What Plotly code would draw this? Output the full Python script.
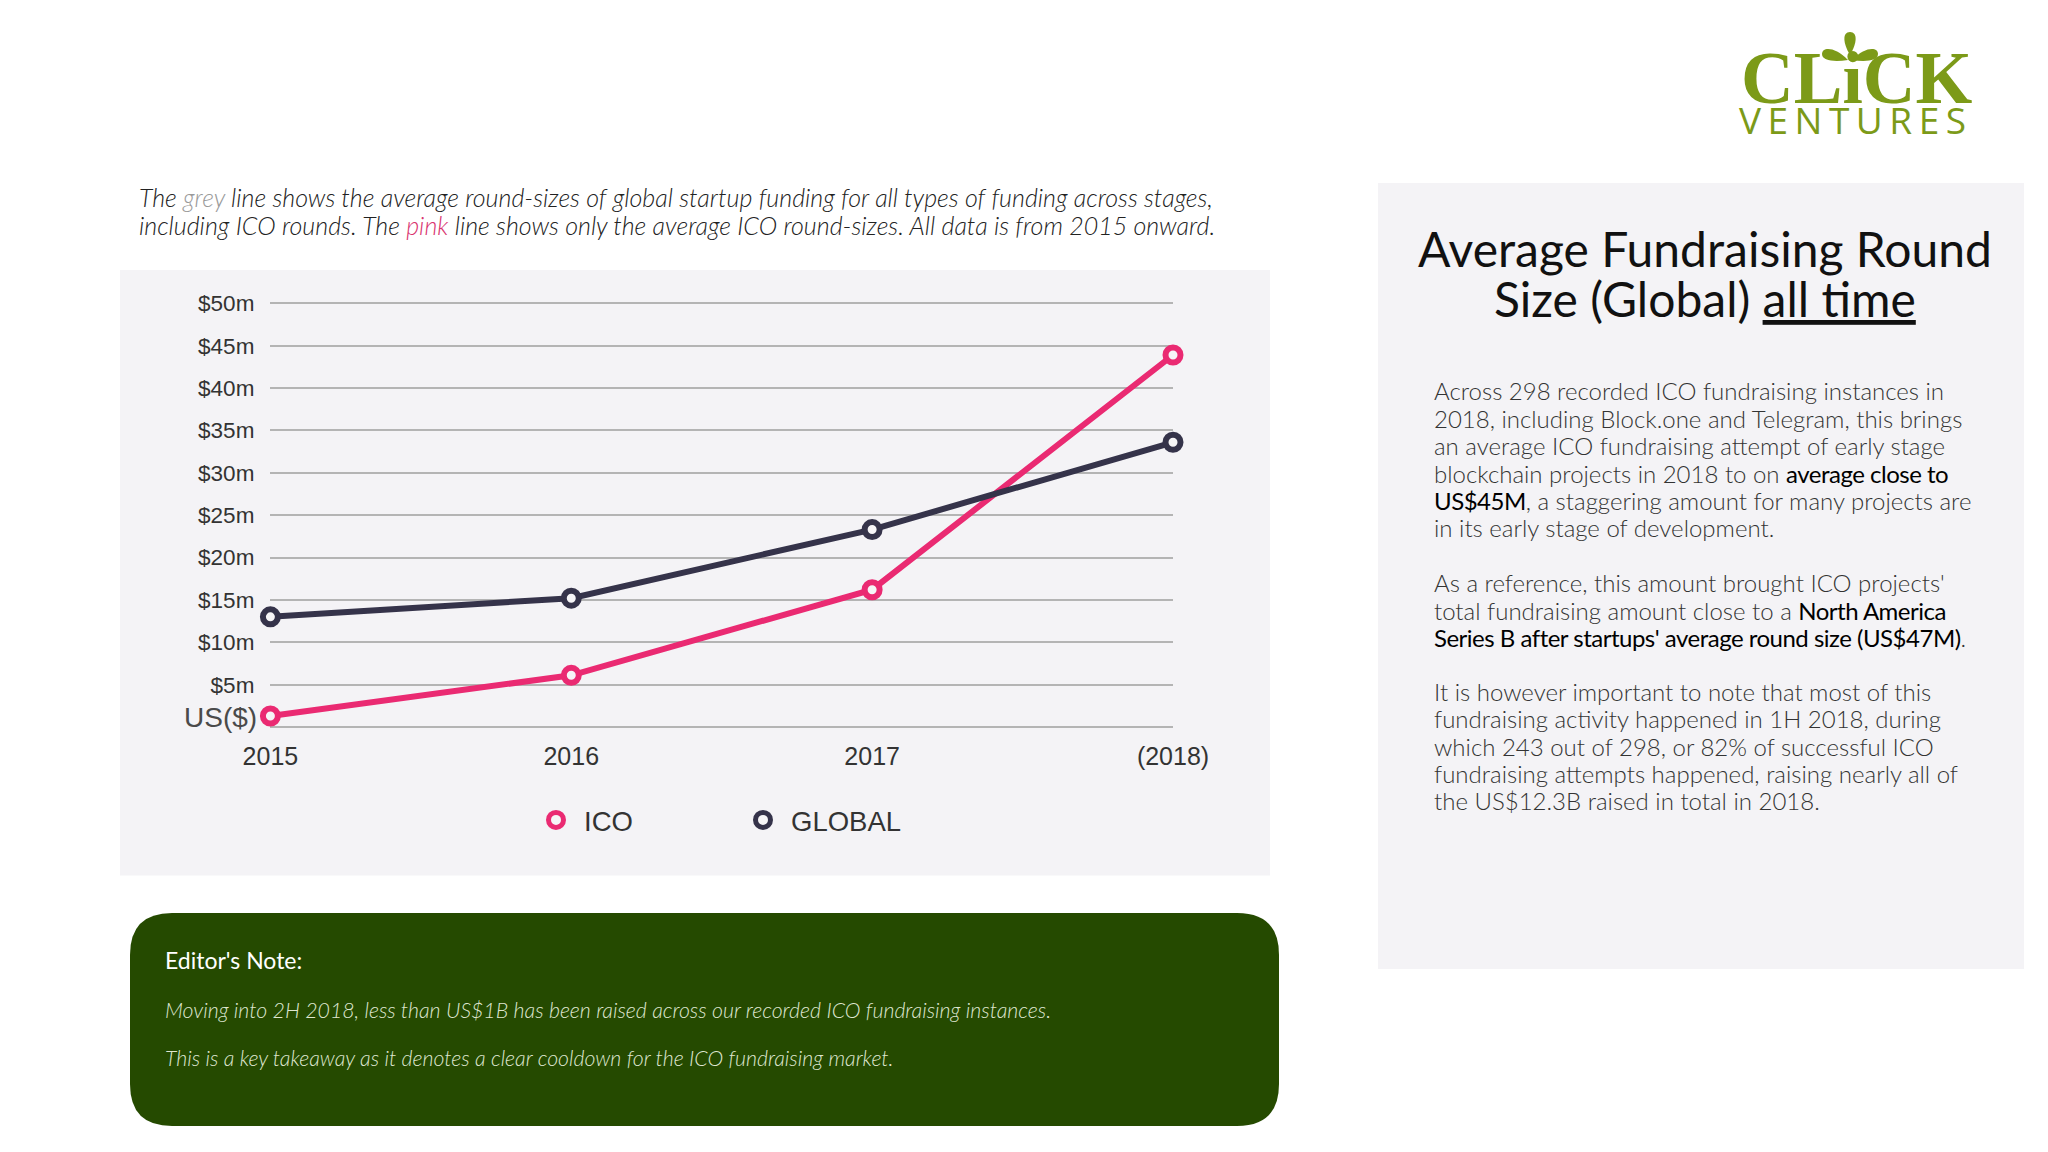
import plotly.graph_objects as go

W = 2048
H = 1152

years = ["2015", "2016", "2017", "(2018)"]
ico = [1.3, 6.1, 16.2, 43.9]
global_avg = [13.0, 15.2, 23.3, 33.6]
y_ticks = [5, 10, 15, 20, 25, 30, 35, 40, 45, 50]
y_labels = ["$5m", "$10m", "$15m", "$20m", "$25m", "$30m", "$35m", "$40m", "$45m", "$50m"]

PINK = "#ea2a72"
DARK = "#35334a"
PANEL = "#f4f3f6"
OLIVE = "#7c9a18"
GREEN = "#254a00"
BODY_FONT = "Lato"
BOLD = '<span style="color:#000;font-weight:400;letter-spacing:-0.5px">'

desc_lines = [
    'The <span style="color:#9a9a9a">grey</span> line shows the average round-sizes of global startup funding for all types of funding across stages,',
    'including ICO rounds. The <span style="color:#d9346f">pink</span> line shows only the average ICO round-sizes. All data is from 2015 onward.',
]
body_lines = [
    (390.5, "Across 298 recorded ICO fundraising instances in"),
    (418, "2018, including Block.one and Telegram, this brings"),
    (445.5, "an average ICO fundraising attempt of early stage"),
    (473, f"blockchain projects in 2018 to on {BOLD}average close to</span>"),
    (500, f"{BOLD}US$45M</span>, a staggering amount for many projects are"),
    (527.5, "in its early stage of development."),
    (582.5, "As a reference, this amount brought ICO projects'"),
    (610, f"total fundraising amount close to a {BOLD}North America</span>"),
    (637.5, f"{BOLD}Series B after startups' average round size (US$47M)</span>."),
    (691, "It is however important to note that most of this"),
    (718.5, "fundraising activity happened in 1H 2018, during"),
    (746, "which 243 out of 298, or 82% of successful ICO"),
    (773, "fundraising attempts happened, raising nearly all of"),
    (800.5, "the US$12.3B raised in total in 2018."),
]


def px(x):
    return x / W


def py(y):
    return 1 - y / H


def text(x, y, s, size, color="#222", family=BODY_FONT, weight=300, style="normal", anchor="left"):
    return dict(xref="paper", yref="paper", x=px(x), y=py(y), text=s, showarrow=False,
                xanchor=anchor, yanchor="middle", align=anchor,
                font=dict(family=family, size=size, color=color, weight=weight, style=style))


def rect(x0, y0, x1, y1, color):
    return dict(type="rect", xref="paper", yref="paper", x0=px(x0), x1=px(x1), y0=py(y0), y1=py(y1),
                fillcolor=color, line_width=0, layer="below")


def rounded(x0, y0, x1, y1, r, color):
    p = (f"M {px(x0 + r)} {py(y0)} L {px(x1 - r)} {py(y0)} Q {px(x1)} {py(y0)} {px(x1)} {py(y0 + r)} "
         f"L {px(x1)} {py(y1 - r)} Q {px(x1)} {py(y1)} {px(x1 - r)} {py(y1)} "
         f"L {px(x0 + r)} {py(y1)} Q {px(x0)} {py(y1)} {px(x0)} {py(y1 - r)} "
         f"L {px(x0)} {py(y0 + r)} Q {px(x0)} {py(y0)} {px(x0 + r)} {py(y0)} Z")
    return dict(type="path", xref="paper", yref="paper", path=p, fillcolor=color, line_width=0, layer="below")


def petal(x0, y0, x1, y1, tipx, tipy, color):
    # leaf of the logo, tip points at the stem
    cx, cy = (x0 + x1) / 2, (y0 + y1) / 2
    if x1 - x0 > y1 - y0:
        far = x0 if tipx > cx else x1
        p = (f"M {px(tipx)} {py(tipy)} C {px(cx)} {py(y1 + 1)} {px(far)} {py(y1)} {px(far)} {py(cy)} "
             f"C {px(far)} {py(y0)} {px(cx)} {py(y0 - 1)} {px(tipx)} {py(tipy)} Z")
    else:
        p = (f"M {px(tipx)} {py(tipy)} C {px(x0)} {py(cy)} {px(x0 - 1)} {py(y0)} {px(cx)} {py(y0)} "
             f"C {px(x1 + 1)} {py(y0)} {px(x1)} {py(cy)} {px(tipx)} {py(tipy)} Z")
    return dict(type="path", xref="paper", yref="paper", path=p, fillcolor=color, line_width=0, layer="below")


fig = go.Figure()

# main lines
for name, vals, col in [("ICO", ico, PINK), ("GLOBAL", global_avg, DARK)]:
    fig.add_trace(go.Scatter(x=years, y=vals, mode="lines+markers", name=name, showlegend=False,
                             cliponaxis=False,
                             line=dict(color=col, width=6),
                             marker=dict(size=15, color="#f6f5f7", line=dict(color=col, width=6))))
# marker only entries for the legend
for name, col in [("ICO", PINK), ("GLOBAL", DARK)]:
    fig.add_trace(go.Scatter(x=[None], y=[None], mode="markers", name=name,
                             marker=dict(size=15, color="#f6f5f7", line=dict(color=col, width=6))))

shapes = [
    rect(120, 270, 1270, 875.5, PANEL),
    rect(1378, 183, 2024, 969, PANEL),
    rounded(130, 913, 1279, 1126, 42, GREEN),
    petal(1843, 32, 1857, 55, 1850, 55, OLIVE),
    petal(1822, 47, 1847, 61, 1848, 60, OLIVE),
    petal(1853, 47, 1878, 61, 1852, 60, OLIVE),
]

annotations = [
    text(258.6, 717, "US($)", 28, color="#4a4a4a", family="Liberation Sans", weight=400, anchor="right"),
    # logo
    text(1856, 78, "CLiCK", 73, color=OLIVE, family="Liberation Serif", weight=700, anchor="center"),
    text(1856, 120, '<span style="letter-spacing:6.5px">VENTURES</span>', 37, color=OLIVE, family="Open Sans", weight=400, anchor="center"),
    # title
    text(1704.5, 248, "Average Fundraising Round", 48, color="#111", weight=400, anchor="center"),
    text(1704.5, 298, 'Size (Global) <span style="text-decoration:underline">all time</span>', 48, color="#111", weight=400, anchor="center"),
    # note box
    text(163, 960, "Editor's Note:", 23, color="#ffffff", weight=400),
    text(163, 1009.5, "Moving into 2H 2018, less than US$1B has been raised across our recorded ICO fundraising instances.", 21.3, color="#dfe6d0", style="italic"),
    text(163, 1058, "This is a key takeaway as it denotes a clear cooldown for the ICO fundraising market.", 21.3, color="#dfe6d0", style="italic"),
]
annotations += [text(137, 197 + i * 27.5, line, 25, color="#222", style="italic") for i, line in enumerate(desc_lines)]
annotations += [text(1431.5, y, line, 24, color="#333") for y, line in body_lines]

# small padding on the value range, plotly drops a gridline sitting right on the axis end
pad = 0.2
px_per_m = (727 - 303.3) / 50

fig.update_layout(
    template="none",
    width=W, height=H,
    margin=dict(l=0, r=0, t=0, b=0, pad=0),
    paper_bgcolor="white", plot_bgcolor="rgba(0,0,0,0)",
    shapes=shapes, annotations=annotations,
    xaxis=dict(domain=[px(270.4), px(1173)], type="category", categoryarray=years, range=[0, 3],
               automargin=False, showgrid=False, zeroline=False, showline=False, ticks="",
               ticklabelstandoff=10,
               tickfont=dict(family="Liberation Sans", size=25, color="#333")),
    yaxis=dict(domain=[py(727 + pad * px_per_m), py(303.3 - pad * px_per_m)], range=[-pad, 50 + pad],
               tickvals=y_ticks, ticktext=y_labels, automargin=False,
               showgrid=True, gridcolor="#b4b4b4", gridwidth=1.5,
               zeroline=True, zerolinecolor="#b4b4b4", zerolinewidth=1.5, showline=False, ticks="",
               ticklabelstandoff=15,
               tickfont=dict(family="Liberation Sans", size=22.5, color="#333")),
    legend=dict(orientation="h", x=px(528), y=py(820), xanchor="left", yanchor="middle",
                bgcolor="rgba(0,0,0,0)", entrywidth=146, entrywidthmode="pixels", itemwidth=46,
                font=dict(family="Liberation Sans", size=27.5, color="#333")),
    showlegend=True,
)

fig.write_html("out.html", config=dict(displayModeBar=False),
               post_script="document.body.style.margin='0';")
